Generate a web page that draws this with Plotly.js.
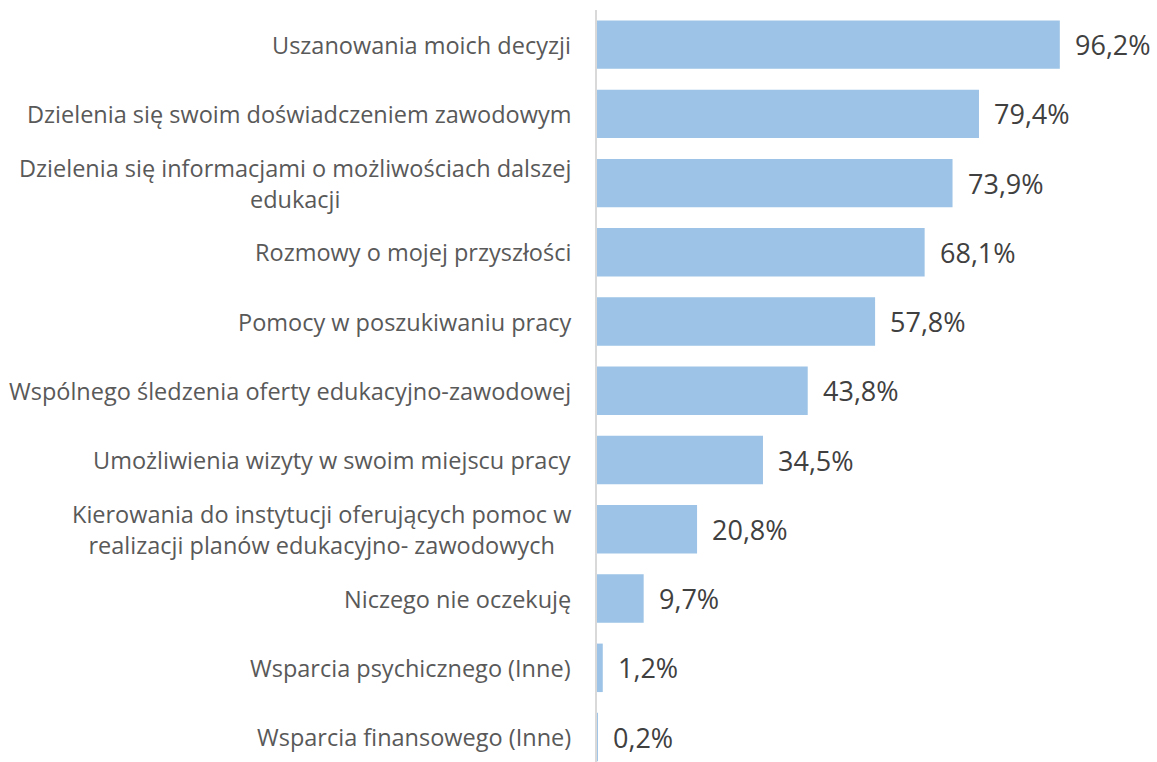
<!DOCTYPE html>
<html><head><meta charset="utf-8">
<script src="https://cdn.plot.ly/plotly-3.0.1.min.js"></script>
<style>html,body{margin:0;padding:0;background:#fff;}#chart{width:1157px;height:762px;}</style>
</head><body><div id="chart"></div>
<script>
var categories = [
  "Uszanowania moich decyzji",
  "Dzielenia się swoim doświadczeniem zawodowym",
  "Dzielenia się informacjami o możliwościach dalszej<br>edukacji",
  "Rozmowy o mojej przyszłości",
  "Pomocy w poszukiwaniu pracy",
  "Wspólnego śledzenia oferty edukacyjno-zawodowej",
  "Umożliwienia wizyty w swoim miejscu pracy",
  "Kierowania do instytucji oferujących pomoc w<br>realizacji planów edukacyjno- zawodowych",
  "Niczego nie oczekuję",
  "Wsparcia psychicznego (Inne)",
  "Wsparcia finansowego (Inne)"
];
var values = [96.2, 79.4, 73.9, 68.1, 57.8, 43.8, 34.5, 20.8, 9.7, 1.2, 0.2];
var valueLabels = ["96,2%", "79,4%", "73,9%", "68,1%", "57,8%", "43,8%", "34,5%", "20,8%", "9,7%", "1,2%", "0,2%"];

var FONT = "'Open Sans', sans-serif";
var ids = categories.map(function(c, i){ return i; });

var trace = {
  type: "bar", orientation: "h",
  x: values, y: ids,
  marker: {color: "#9dc3e6"},
  hoverinfo: "skip"
};

var annotations = [];
categories.forEach(function(c, i){
  annotations.push({
    xref: "paper", yref: "y", x: 0, y: i, xanchor: "right", yanchor: "middle",
    xshift: -24, align: "center", showarrow: false, text: c,
    font: {family: FONT, size: 23.5, color: "#595959"}
  });
  annotations.push({
    xref: "x", yref: "y", x: values[i], y: i, xanchor: "left", yanchor: "middle",
    xshift: 13, showarrow: false, text: valueLabels[i],
    font: {family: FONT, size: 27, color: "#404040"}
  });
});

var layout = {
  width: 1157, height: 762,
  margin: {l: 597, r: 0, t: 10, b: 0},
  paper_bgcolor: "#fff", plot_bgcolor: "#fff",
  bargap: 0.3, showlegend: false,
  xaxis: {range: [0, 116.4], showgrid: false, zeroline: false, showticklabels: false, showline: false, fixedrange: true},
  yaxis: {range: [10.36, -0.5], showgrid: false, zeroline: false, showticklabels: false,
          showline: true, linecolor: "#d9d9d9", linewidth: 2, ticks: "", fixedrange: true},
  annotations: annotations
};
Plotly.newPlot("chart", [trace], layout, {displayModeBar: false, staticPlot: true});
</script>
</body></html>
